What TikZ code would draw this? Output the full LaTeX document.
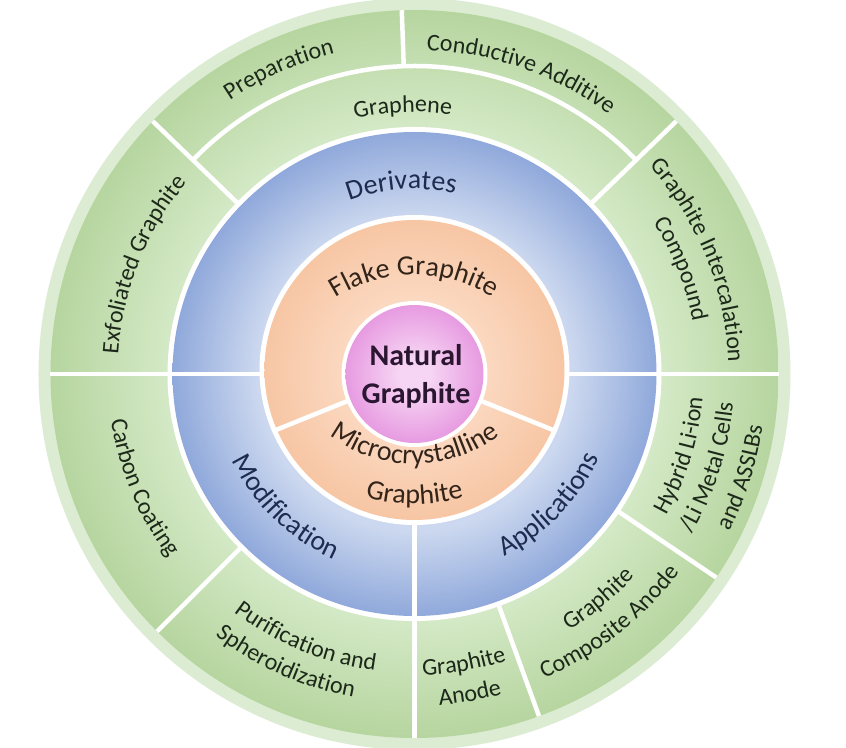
\documentclass[tikz,border=0pt]{standalone}
\usepackage{fontspec}
\setmainfont{Carlito}
\usetikzlibrary{decorations.text}
\definecolor{rimc}{HTML}{DCECD2}
\definecolor{gin}{HTML}{D4E9C6}
\definecolor{gout}{HTML}{B6D59F}
\definecolor{bin}{HTML}{CCD8EF}
\definecolor{bout}{HTML}{90A9DB}
\definecolor{oin}{HTML}{FBD8C0}
\definecolor{oout}{HTML}{F7C6A4}
\definecolor{pin}{HTML}{F6D4F3}
\definecolor{pout}{HTML}{E79BE1}
\definecolor{tg}{HTML}{1C2819}
\definecolor{tb}{HTML}{1E2B50}
\definecolor{to}{HTML}{33241A}
\definecolor{tp}{HTML}{2B1631}
\pgfdeclareradialshading{gshade}{\pgfpoint{0bp}{0bp}}{color(0bp)=(gin); color(16.9bp)=(gin); color(25bp)=(gout); color(50bp)=(gout)}
\pgfdeclareradialshading{bshade}{\pgfpoint{0bp}{0bp}}{color(0bp)=(bin); color(16.2bp)=(bin); color(25bp)=(bout); color(50bp)=(bout)}
\pgfdeclareradialshading{oshade}{\pgfpoint{0bp}{0bp}}{color(0bp)=(oin); color(12bp)=(oin); color(25bp)=(oout); color(50bp)=(oout)}
\pgfdeclareradialshading{pshade}{\pgfpoint{0bp}{0bp}}{color(0bp)=(pin); color(6bp)=(pin); color(25bp)=(pout); color(50bp)=(pout)}
\newcommand\grtxt{\fontsize{24}{24}\selectfont\color{tg}}
\newcommand\blutxt{\fontsize{28}{28}\selectfont\color{tb}}
\newcommand\orgtxt{\fontsize{28}{28}\selectfont\color{to}}
% clockwise arc label (tops outward): radius, centre angle, format, text
\newcommand\lblcw[4]{\path[decorate,decoration={text along path,text align=center,text={|#3|#4}}]
  (#2+75:#1pt) arc[start angle=#2+75,end angle=#2-75,radius=#1pt];}
% counter-clockwise arc label (tops inward)
\newcommand\lblccw[4]{\path[decorate,decoration={text along path,text align=center,text={|#3|#4}}]
  (#2-75:#1pt) arc[start angle=#2-75,end angle=#2+75,radius=#1pt];}
\tikzset{sepline/.style={draw=white,line width=4.5pt}}
\begin{document}
\begin{tikzpicture}
\useasboundingbox (-414.5pt,-373pt) rectangle (431.5pt,374pt);
\fill[white] (-414.5pt,-373pt) rectangle (431.5pt,374pt);
% rings
\fill[rimc] (0pt,0pt) circle (376pt);
\shade[shading=gshade] (0pt,0pt) circle (364pt);
\fill[white] (0pt,0pt) circle (247pt);
\shade[shading=bshade] (0pt,0pt) circle (242pt);
\fill[white] (0pt,4pt) circle (155pt);
\shade[shading=oshade] (0pt,4pt) circle (150pt);
\fill[white] (0pt,0pt) circle (73pt);
\shade[shading=pshade] (0pt,0pt) circle (69pt);
% separators
\foreach \a in {0,180,270} \draw[sepline] (\a:150pt) -- (\a:364pt);
\foreach \a in {44,136,225,290,326} \draw[sepline] (\a:244pt) -- (\a:364pt);
\draw[sepline] (92:308pt) -- (92:364pt);
\draw[sepline] (44:308pt) arc[start angle=44,end angle=136,radius=308pt];
\foreach \a in {202,338} \draw[sepline] (\a:70pt) -- (\a:152pt);
% centre
\node[font=\bfseries\fontsize{30}{30}\selectfont,text=tp,anchor=base,inner sep=0pt] (nat1) at (1.5pt,9pt) {Natural};
\node[font=\bfseries\fontsize{30}{30}\selectfont,text=tp,anchor=base,inner sep=0pt] (nat2) at (1.5pt,-29pt) {Graphite};
% orange ring
\begin{scope}[shift={(0pt,-47pt)}]
\lblcw{146}{90}{\orgtxt}{Flake Graphite}
\end{scope}
\begin{scope}[shift={(0pt,51pt)}]
\lblccw{141}{270}{\orgtxt}{Microcrystalline}
\lblccw{181}{270}{\orgtxt}{Graphite}
\end{scope}
% blue ring
\lblcw{185}{94}{\blutxt}{Derivates}
\lblccw{202}{226}{\blutxt}{Modification}
\lblccw{203}{316}{\blutxt}{Applications}
% green ring
\lblcw{330}{114}{\grtxt}{Preparation}
\lblcw{324}{70.5}{\grtxt}{Conductive Additive}
\lblcw{262}{92.5}{\grtxt}{Graphene}
\lblcw{297}{158}{\grtxt}{Exfoliated Graphite}
\lblcw{314}{21.8}{\grtxt}{Graphite Intercalation}
\lblcw{283}{21.5}{\grtxt}{Compound}
\lblccw{307}{202.8}{\grtxt}{Carbon Coating}
\lblccw{299}{247.6}{\grtxt}{Purification and}
\lblccw{329}{246}{\grtxt}{Spheroidization}
\lblccw{301}{279.7}{\grtxt}{Graphite}
\lblccw{332}{279.8}{\grtxt}{Anode}
\lblccw{299}{309.3}{\grtxt}{Graphite}
\lblccw{331}{308.1}{\grtxt}{Composite Anode}
\lblccw{289}{343}{\grtxt}{Hybrid Li-ion}
\lblccw{320}{342.4}{\grtxt}{/Li Metal Cells}
\lblccw{352}{342.5}{\grtxt}{and ASSLBs}
\end{tikzpicture}
\end{document}
